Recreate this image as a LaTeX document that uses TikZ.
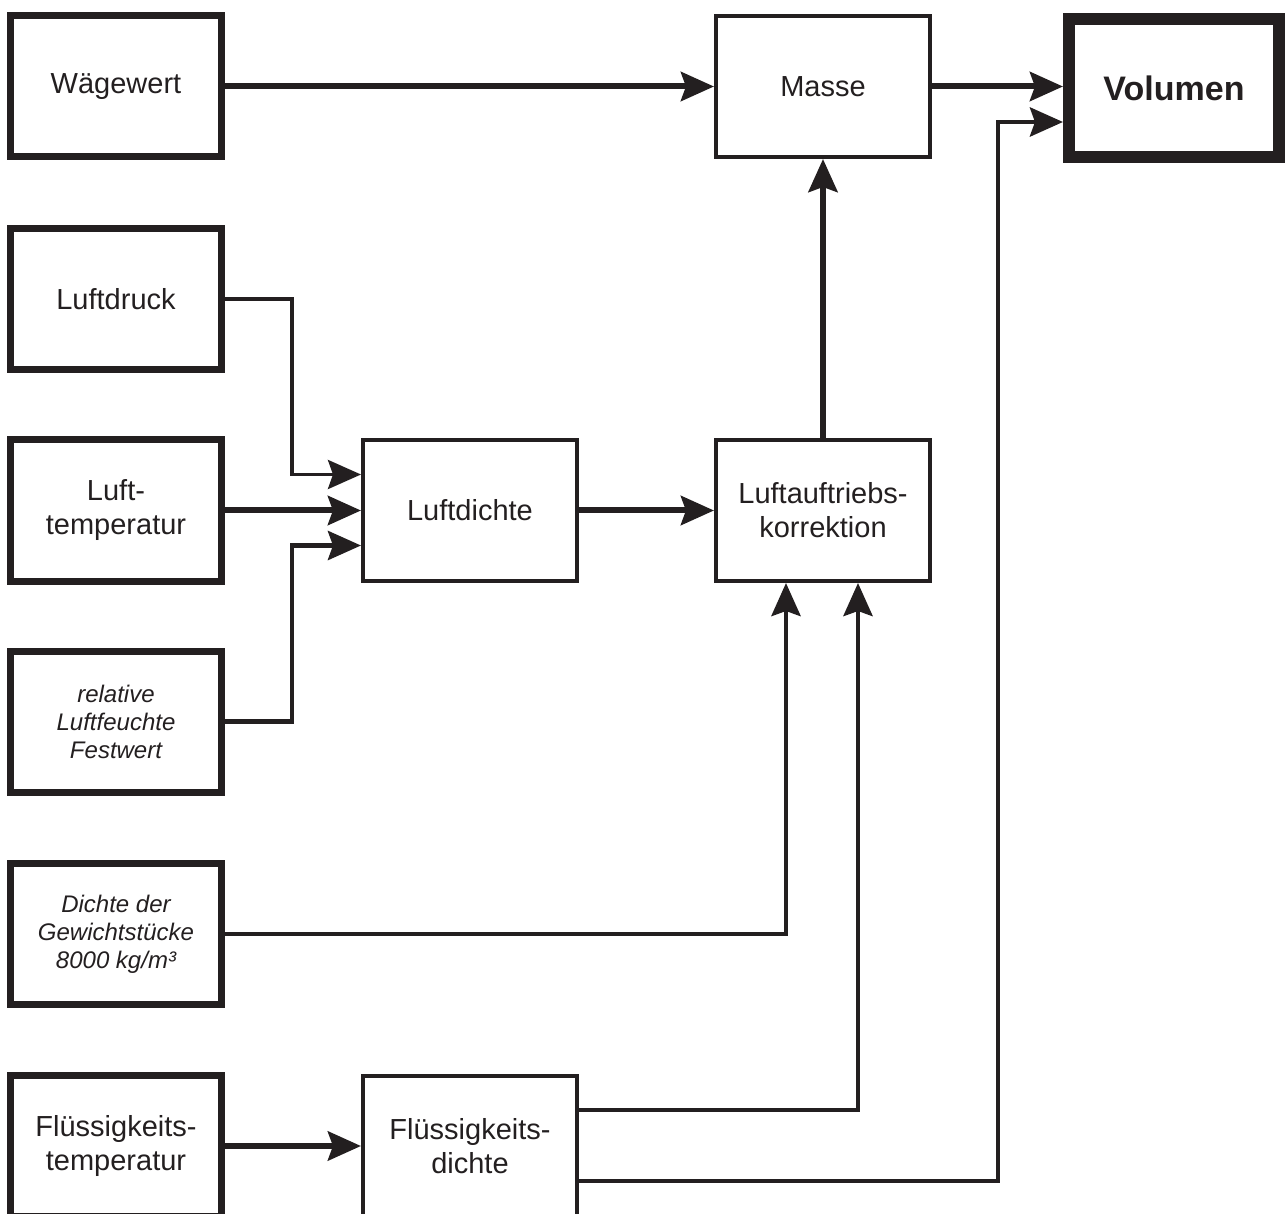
\documentclass[tikz,border=0pt]{standalone}
\usepackage{fontspec}
\setmainfont{Liberation Sans}
\usetikzlibrary{arrows.meta,calc}
\definecolor{ink}{RGB}{35,31,32}
\begin{document}
\begin{tikzpicture}[x=1pt,y=-1pt,
  every node/.style={inner sep=0pt,align=center,text=ink},
  heavybox/.style={draw=ink,line width=7pt,minimum width=211pt,minimum height=141pt,font=\fontsize{29}{34}\selectfont},
  lightbox/.style={draw=ink,line width=4pt,minimum width=214pt,minimum height=141pt,font=\fontsize{29}{34}\selectfont},
  italicbox/.style={heavybox,font=\fontsize{24}{28}\selectfont\itshape},
  volbox/.style={draw=ink,line width=12pt,minimum width=210pt,minimum height=138pt,font=\fontsize{34}{40}\selectfont\bfseries},
  arr/.style={-{Stealth[length=33pt,width=29pt,inset=5pt]}},
  bigline/.style={draw=ink,line width=6pt},
  midline/.style={draw=ink,line width=4.8pt},
  smallline/.style={draw=ink,line width=3.5pt}
]
\useasboundingbox (0,0) rectangle (1286,1214);
\clip (0,0) rectangle (1286,1214);

\node[heavybox] (wage) at (116,86.5) {Wägewert};
\node[heavybox] (druck) at (116,299) {Luftdruck};
\node[heavybox] (ltemp) at (116,510.5) {Luft-\\temperatur};
\node[italicbox] (feucht) at (116,721.5) {relative\\Luftfeuchte\\Festwert};
\node[italicbox] (dichteg) at (116,934) {Dichte der\\Gewichtstücke\\8000 kg/m³};
\node[heavybox] (ftemp) at (116,1146) {Flüssigkeits-\\temperatur};

\node[lightbox] (masse) at (823,86.5) {Masse};
\node[volbox] (vol) at (1174,88) {Volumen};
\node[lightbox] (ldichte) at (470,510.5) {Luftdichte};
\node[lightbox] (korr) at (823,510.5) {Luftauftriebs-\\korrektion};
\node[lightbox] (fdichte) at (470,1146) {Flüssigkeits-\\dichte};

\draw[bigline,arr] (wage) -- (masse);
\draw[bigline,arr] (masse.east) -- (masse.east -| vol.west);
\draw[midline,arr] ($(fdichte.east)+(0,35)$) -| ($(vol.west)+(-65,34)$) -- ($(vol.west)+(0,34)$);

\draw[smallline,arr] (druck.east) -| ($(ldichte.west)+(-69,-36)$) -- ($(ldichte.west)+(0,-36)$);
\draw[bigline,arr] (ltemp) -- (ldichte);
\draw[midline,arr] (feucht.east) -| ($(ldichte.west)+(-69,35)$) -- ($(ldichte.west)+(0,35)$);

\draw[bigline,arr] (ldichte) -- (korr);
\draw[bigline,arr] (korr) -- (masse);

\draw[midline,arr] (dichteg.east) -| ($(korr.south)+(-37,0)$);
\draw[midline,arr] ($(fdichte.east)+(0,-36)$) -| ($(korr.south)+(35,0)$);
\draw[bigline,arr] (ftemp) -- (fdichte);
\end{tikzpicture}
\end{document}
